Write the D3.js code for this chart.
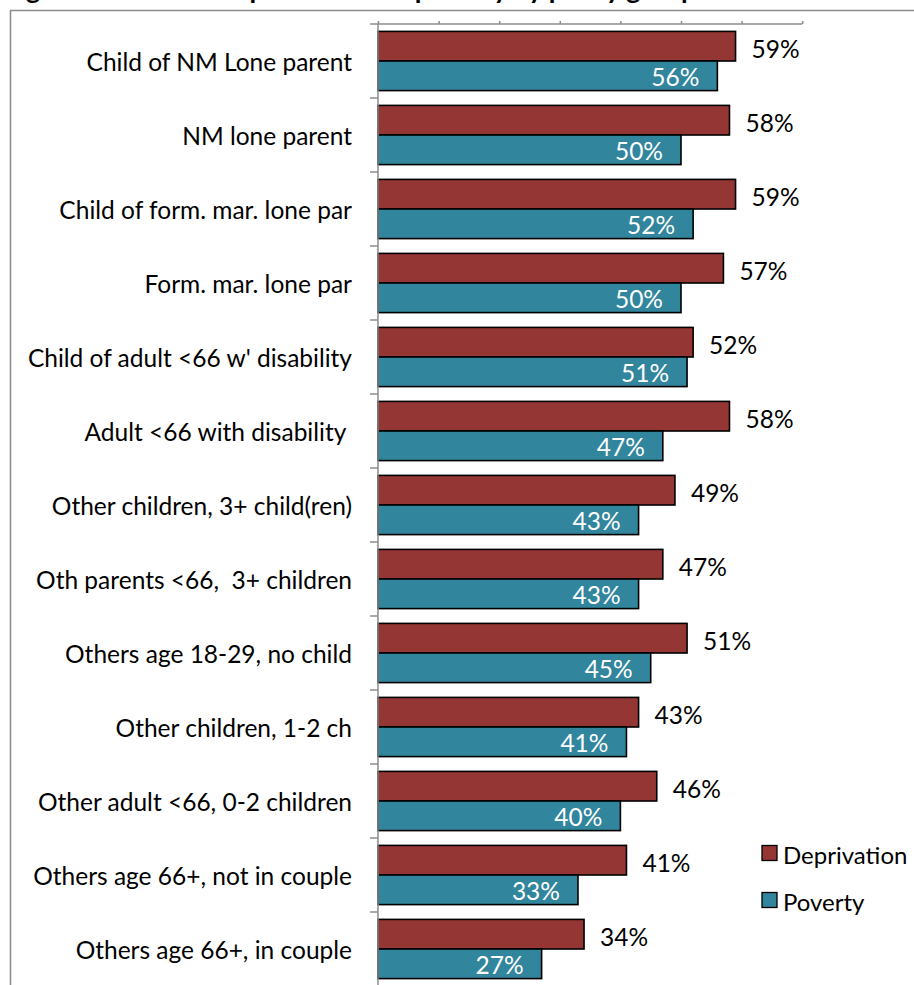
<!DOCTYPE html>
<html><head><meta charset="utf-8">
<script src="https://cdn.jsdelivr.net/npm/d3@7"></script>
<style>
html,body{margin:0;padding:0;background:#fff;overflow:hidden}
svg{display:block}
text{font-family:Lato,"Open Sans",sans-serif}
</style></head>
<body>
<script>
const title = "Figure 6: Rates of deprivation and poverty by policy group";
const categories = [
  "Child of NM Lone parent",
  "NM lone parent",
  "Child of form. mar. lone par",
  "Form. mar. lone par",
  "Child of adult <66 w' disability",
  "Adult <66 with disability ",
  "Other children, 3+ child(ren)",
  "Oth parents <66,  3+ children",
  "Others age 18-29, no child",
  "Other children, 1-2 ch",
  "Other adult <66, 0-2 children",
  "Others age 66+, not in couple",
  "Others age 66+, in couple"
];
const seriesNames = ["Deprivation", "Poverty"];
const deprivation = [59,58,59,57,52,58,49,47,51,43,46,41,34];
const poverty     = [56,50,52,50,51,47,43,43,45,41,40,33,27];
const xTicks = [0,10,20,30,40,50,60,70];

const colors = {Deprivation:"#943634", Poverty:"#31859C"};
const W = 914, H = 985;
const svg = d3.select("body").append("svg").attr("width",W).attr("height",H);

// title (clipped at top as in reference)
svg.append("text").attr("x",4).attr("y",-1)
  .style("font-weight","bold").style("font-size","27px").attr("fill","#000").text(title);

// chart border
svg.append("rect").attr("x",10.5).attr("y",10.5).attr("width",W+20).attr("height",H+20)
  .attr("fill","#fff").attr("stroke","#8c8c8c").attr("stroke-width",1.5);

const leftX = 378, topY = 24;
const x = d3.scaleLinear().domain([0,70]).range([leftX, leftX + 70*6.06]);
const y = d3.scaleBand().domain(categories).range([topY, topY + 74*categories.length])
  .paddingInner(0.2).paddingOuter(0.1);
const ys = d3.scaleBand().domain(seriesNames).range([0, y.bandwidth()]);

const data = categories.map((c,i)=>({cat:c, Deprivation:deprivation[i], Poverty:poverty[i]}));

// bars
const g = svg.append("g");
const rows = g.selectAll("g.row").data(data).join("g").attr("class","row")
  .attr("transform", d=>`translate(0,${y(d.cat)})`);
rows.selectAll("rect").data(d=>seriesNames.map(s=>({s, v:d[s]}))).join("rect")
  .attr("x", x(0)).attr("y", d=>ys(d.s)).attr("width", d=>x(d.v)-x(0)).attr("height", ys.bandwidth())
  .attr("fill", d=>colors[d.s]).attr("stroke","#000").attr("stroke-width",1.6);

// value labels
rows.append("text").attr("x", d=>x(d.Deprivation)+16).attr("y", ys("Deprivation")+ys.bandwidth()/2+2)
  .attr("dominant-baseline","central").style("font-size","24.5px").attr("fill","#000")
  .text(d=>d.Deprivation+"%");
rows.append("text").attr("x", d=>x(d.Poverty)-18).attr("y", ys("Poverty")+ys.bandwidth()/2+1)
  .attr("dominant-baseline","central").attr("text-anchor","end").style("font-size","24.5px").attr("fill","#fff")
  .text(d=>d.Poverty+"%");

// top axis
const xAxis = d3.axisTop(x).tickValues(xTicks).tickSize(3).tickFormat("");
const ax = svg.append("g").attr("transform",`translate(0,${topY})`).call(xAxis);
ax.select(".domain").remove();
ax.append("line").attr("x1",370).attr("x2",x(70)).attr("y1",0).attr("y2",0);
ax.selectAll("line").attr("stroke","#8c8c8c").attr("stroke-width",1.5);

// left axis
const yAxis = d3.axisLeft(y).tickSize(0).tickFormat("");
const ay = svg.append("g").attr("transform",`translate(${leftX},0)`).call(yAxis);
ay.select(".domain").remove();
ay.append("line").attr("x1",0).attr("x2",0).attr("y1",topY).attr("y2",H+5).attr("stroke","#8c8c8c").attr("stroke-width",1.5);
const step = y.step();
ay.selectAll("line.cb").data(categories.slice(1)).join("line").attr("class","cb")
  .attr("x1",-8).attr("x2",0).attr("y1",(d,i)=>topY+step*(i+1)).attr("y2",(d,i)=>topY+step*(i+1))
  .attr("stroke","#8c8c8c").attr("stroke-width",1.5);

// category labels
svg.append("g").selectAll("text").data(categories).join("text")
  .attr("x",352).attr("y",d=>y(d)+y.bandwidth()/2).attr("text-anchor","end")
  .attr("dominant-baseline","central").style("font-size","24.5px").attr("fill","#000")
  .style("white-space","pre").text(d=>d);

// legend
const lg = svg.append("g").selectAll("g").data(seriesNames).join("g")
  .attr("transform",(d,i)=>`translate(762,${853+i*47})`);
lg.append("rect").attr("x",0).attr("y",-7.5).attr("width",15).attr("height",15)
  .attr("fill",d=>colors[d]).attr("stroke","#000").attr("stroke-width",1.3);
lg.append("text").attr("x",21).attr("y",1).attr("dominant-baseline","central")
  .style("font-size","24px").attr("fill","#000").text(d=>d);
</script>
</body></html>
